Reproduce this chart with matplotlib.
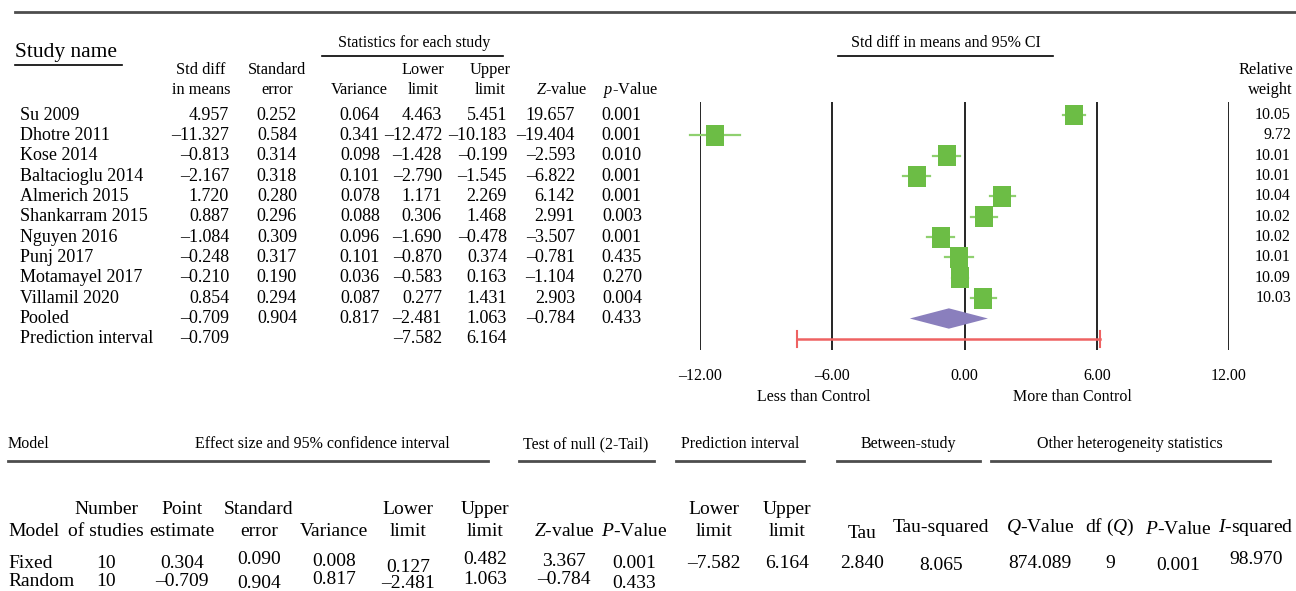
import numpy as np
import matplotlib.pyplot as plt
from matplotlib.patches import Rectangle, Polygon

plt.rcParams['font.family'] = ['Liberation Serif', 'DejaVu Serif']
plt.rcParams['mathtext.fontset'] = 'custom'
plt.rcParams['mathtext.rm'] = 'Liberation Serif'
plt.rcParams['mathtext.it'] = 'Liberation Serif:italic'

# study level data
studies = ['Su 2009', 'Dhotre 2011', 'Kose 2014', 'Baltacioglu 2014', 'Almerich 2015',
           'Shankarram 2015', 'Nguyen 2016', 'Punj 2017', 'Motamayel 2017', 'Villamil 2020']
std_diff = [4.957, -11.327, -0.813, -2.167, 1.720, 0.887, -1.084, -0.248, -0.210, 0.854]
std_err = [0.252, 0.584, 0.314, 0.318, 0.280, 0.296, 0.309, 0.317, 0.190, 0.294]
variance = [0.064, 0.341, 0.098, 0.101, 0.078, 0.088, 0.096, 0.101, 0.036, 0.087]
lower = [4.463, -12.472, -1.428, -2.790, 1.171, 0.306, -1.690, -0.870, -0.583, 0.277]
upper = [5.451, -10.183, -0.199, -1.545, 2.269, 1.468, -0.478, 0.374, 0.163, 1.431]
z_value = [19.657, -19.404, -2.593, -6.822, 6.142, 2.991, -3.507, -0.781, -1.104, 2.903]
p_value = [0.001, 0.001, 0.010, 0.001, 0.001, 0.003, 0.001, 0.435, 0.270, 0.004]
rel_weight = [10.05, 9.72, 10.01, 10.01, 10.04, 10.02, 10.02, 10.01, 10.09, 10.03]

# pooled estimate and prediction interval
pooled = [-0.709, 0.904, 0.817, -2.481, 1.063, -0.784, 0.433]
pred_est, pred_lo, pred_hi = -0.709, -7.582, 6.164

x_ticks = [-12, -6, 0, 6, 12]

# summary table
models = ['Fixed', 'Random']
n_studies = [10, 10]
point_est = [0.304, -0.709]
model_se = [0.090, 0.904]
model_var = [0.008, 0.817]
model_lo = [0.127, -2.481]
model_hi = [0.482, 1.063]
model_z = [3.367, -0.784]
model_p = [0.001, 0.433]
pi_lo, pi_hi = -7.582, 6.164
tau, tau_sq, q_value, df_q, q_p, i_sq = 2.840, 8.065, 874.089, 9, 0.001, 98.970


def fmt(v, nd=3):
    s = f'{v:.{nd}f}'
    return s.replace('-', '\u2013')


W, H = 1296, 591
fig = plt.figure(figsize=(W / 100, H / 100), dpi=100)
ax = fig.add_axes([0, 0, 1, 1])
ax.set_xlim(0, W)
ax.set_ylim(H, 0)
ax.axis('off')

line_c = '#4d4d4d'
fs = 13
hfs = 11.8
gfs = 11.5

# top rule
ax.plot([15, W], [12, 12], color=line_c, lw=2)

# upper table headers
ax.text(15, 52, 'Study name', fontsize=15.5, va='center', ha='left')
ax.plot([15, 122], [65, 65], color='black', lw=1.2)
ax.text(414, 43, 'Statistics for each study', fontsize=gfs, va='center', ha='center')
ax.plot([322, 503], [56, 56], color='black', lw=1.2)
ax.text(946, 43, 'Std diff in means and 95% CI', fontsize=gfs, va='center', ha='center')
ax.plot([838, 1053], [56, 56], color='black', lw=1.2)

col_right = [229, 297, 380, 442, 507, 575, 642]
head_x = [201, 277, 359, 423, 490, 562, 631]
head_top = ['Std diff', 'Standard', '', 'Lower', 'Upper', '', '']
head_bot = ['in means', 'error', 'Variance', 'limit', 'limit', '$Z$-value', '$p$-Value']
for xc, t1, t2 in zip(head_x, head_top, head_bot):
    if t1:
        ax.text(xc, 70, t1, fontsize=hfs, ha='center', va='center')
    ax.text(xc, 90, t2, fontsize=hfs, ha='center', va='center')
ax.text(1293, 70, 'Relative', fontsize=hfs, ha='right', va='center')
ax.text(1293, 90, 'weight', fontsize=hfs, ha='right', va='center')

row0, dy = 115, 20.35
cols = [std_diff, std_err, variance, lower, upper, z_value, p_value]
for i, name in enumerate(studies):
    y = row0 + i * dy
    ax.text(20, y, name, fontsize=fs, va='center', ha='left')
    for xr, c in zip(col_right, cols):
        ax.text(xr, y, fmt(c[i]), fontsize=fs, va='center', ha='right')
    ax.text(1291, y, f'{rel_weight[i]:.2f}', fontsize=gfs, va='center', ha='right')

y = row0 + 10 * dy
ax.text(20, y, 'Pooled', fontsize=fs, va='center', ha='left')
for xr, v in zip(col_right, pooled):
    ax.text(xr, y, fmt(v), fontsize=fs, va='center', ha='right')
y = row0 + 11 * dy
ax.text(20, y, 'Prediction interval', fontsize=fs, va='center', ha='left')
ax.text(col_right[0], y, fmt(pred_est), fontsize=fs, va='center', ha='right')
ax.text(col_right[3], y, fmt(pred_lo), fontsize=fs, va='center', ha='right')
ax.text(col_right[4], y, fmt(pred_hi), fontsize=fs, va='center', ha='right')

# forest panel
px_l, px_r, py_t, py_b = 700, 1229, 102, 350
fx = fig.add_axes([px_l / W, 1 - py_b / H, (px_r - px_l) / W, (py_b - py_t) / H])
fx.patch.set_alpha(0)
fx.set_xlim(-12, 12)
fx.set_ylim((py_b - row0) / dy, (py_t - row0) / dy)
for s in fx.spines.values():
    s.set_visible(False)
fx.set_yticks([])
fx.set_xticks(x_ticks)
fx.set_xticklabels([fmt(t, 2) for t in x_ticks], fontsize=gfs)
fx.tick_params(axis='x', length=0, pad=13)
for t in x_ticks:
    fx.axvline(t, color='black', lw=1.2, zorder=1)

green = '#6cbd45'
green_l = '#8fd06f'
sq_w = 18 / 22.04
sq_h = 21 / dy
for i in range(len(studies)):
    fx.plot([lower[i], upper[i]], [i, i], color=green_l, lw=1.6, zorder=2, clip_on=False)
    k = np.sqrt(rel_weight[i] / max(rel_weight))
    fx.add_patch(Rectangle((std_diff[i] - sq_w * k / 2, i - sq_h * k / 2), sq_w * k, sq_h * k,
                           facecolor=green, edgecolor='none', zorder=3, clip_on=False))

fx.add_patch(Polygon([(pooled[3], 10), (pooled[0], 10 - 0.5), (pooled[4], 10), (pooled[0], 10 + 0.5)],
                     closed=True, facecolor='#8a7fbd', edgecolor='none', zorder=3))
red = '#ee6262'
fx.plot([pred_lo, pred_hi], [11, 11], color=red, lw=1.8, zorder=3)
for xv in (pred_lo, pred_hi):
    fx.plot([xv, xv], [11 - 0.4, 11 + 0.4], color=red, lw=1.5, zorder=3)

ax.text(814, 397, 'Less than Control', fontsize=gfs, ha='center', va='center')
ax.text(1072, 397, 'More than Control', fontsize=gfs, ha='center', va='center')

# lower summary table
gy = 444
ax.text(8, gy, 'Model', fontsize=gfs, ha='left', va='center')
groups = [('Effect size and 95% confidence interval', 322, 8, 488),
          ('Test of null (2-Tail)', 586, 519, 654),
          ('Prediction interval', 740, 676, 804),
          ('Between-study', 908, 837, 980),
          ('Other heterogeneity statistics', 1130, 991, 1270)]
for label, xc, x0, x1 in groups:
    ax.text(xc, gy, label, fontsize=gfs, ha='center', va='center')
    ax.plot([x0, x1], [461, 461], color=line_c, lw=2)

bfs = 14
bcols = [106, 182, 259, 334, 408, 485, 564, 634, 714, 787, 862, 941, 1040, 1110, 1178, 1256]
b_top = ['Number', 'Point', 'Standard', '', 'Lower', 'Upper', '', '', 'Lower', 'Upper',
         '', '', '', '', '', '']
b_bot = ['of studies', 'estimate', 'error', 'Variance', 'limit', 'limit', '$Z$-value', '$P$-Value',
         'limit', 'limit', 'Tau', 'Tau-squared', '$Q$-Value', 'df ($Q$)', '$P$-Value', '$I$-squared']
b_bot_dy = [0, 0, 0, 0, 0, 0, 0, 0, 0, 0, 2, -4, -4, -4, -1, -4]
ax.text(8, 531, 'Model', fontsize=bfs, ha='left', va='center')
for xc, t1, t2, d in zip(bcols, b_top, b_bot, b_bot_dy):
    if t1:
        ax.text(xc, 510, t1, fontsize=bfs, ha='center', va='center')
    ax.text(xc, 531 + d, t2, fontsize=bfs, ha='center', va='center')

fixed_dy = [0, 0, -3, -1, 4, -3, -1, 0, 0, 0, 0, 2, 0, 0, 2, -3]
random_dy = [0, 0, 3, -2, 3, -2, -2, 3]
for r, name in enumerate(models):
    yb = 563 + r * 18
    ax.text(8, yb, name, fontsize=bfs, ha='left', va='center')
    vals = [str(n_studies[r]), fmt(point_est[r]), fmt(model_se[r]), fmt(model_var[r]),
            fmt(model_lo[r]), fmt(model_hi[r]), fmt(model_z[r]), fmt(model_p[r])]
    offs = random_dy if r else fixed_dy
    if r == 0:
        vals += [fmt(pi_lo), fmt(pi_hi), fmt(tau), fmt(tau_sq), fmt(q_value), str(df_q),
                 fmt(q_p), fmt(i_sq)]
    for xc, v, d in zip(bcols, vals, offs):
        ax.text(xc, yb + d, v, fontsize=bfs, ha='center', va='center')

fig.savefig('out.png', dpi=100)
